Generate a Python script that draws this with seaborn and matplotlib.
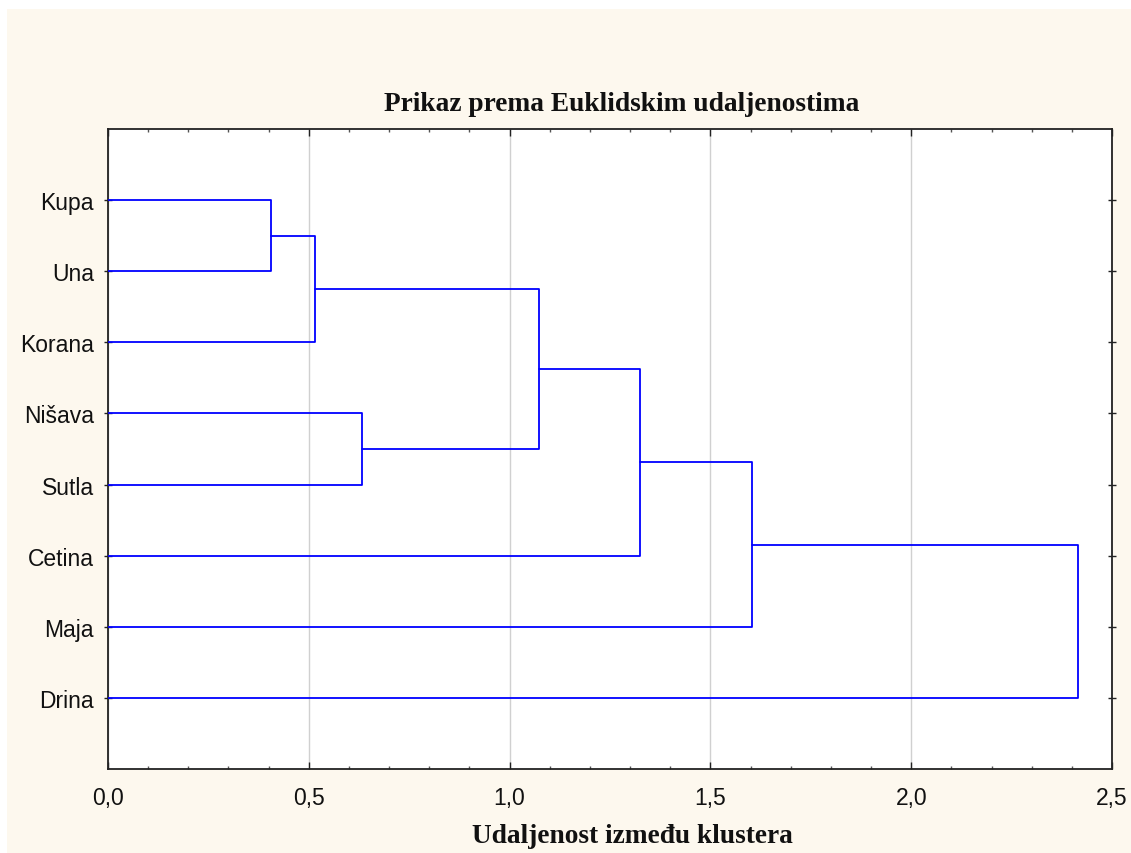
import numpy as np
import pandas as pd
import seaborn as sns
import matplotlib.pyplot as plt
from matplotlib.patches import Rectangle
from matplotlib.ticker import MultipleLocator, FuncFormatter

# Leaves, top to bottom
leaves = ['Kupa', 'Una', 'Korana', 'Nišava', 'Sutla', 'Cetina', 'Maja', 'Drina']
# Merges: (left member, right member, linkage distance); ints >= 8 refer to earlier merges
merge_a = [0, 8, 3, 9, 11, 12, 13]
merge_b = [1, 2, 4, 10, 5, 6, 7]
merge_h = [0.405, 0.516, 0.632, 1.073, 1.324, 1.603, 2.415]

sns.set_theme(style='white')
plt.rcParams['font.family'] = ['Liberation Sans', 'DejaVu Sans']

# Build the dendrogram segments
pos = {i: i + 1 for i in range(len(leaves))}
hgt = {i: 0.0 for i in range(len(leaves))}
rows = []
for k, (a, b, h) in enumerate(zip(merge_a, merge_b, merge_h)):
    seg = [(hgt[a], pos[a]), (h, pos[a]), (h, pos[b]), (hgt[b], pos[b])]
    for j, (x, y) in enumerate(seg):
        rows.append({'seg': k, 'order': j, 'x': x, 'y': y})
    nid = len(leaves) + k
    pos[nid] = (pos[a] + pos[b]) / 2
    hgt[nid] = h
df = pd.DataFrame(rows)

fig = plt.figure(figsize=(11.31, 8.54), dpi=100, facecolor='white')
fig.patches.append(Rectangle((7 / 1131, 0), 1, 1 - 10 / 854, transform=fig.transFigure,
                             facecolor='#fdf8ee', edgecolor='none', zorder=-10))
ax = fig.add_axes([108 / 1131, 1 - 770 / 854, 1004 / 1131, 640 / 854])
ax.set_facecolor('white')

sns.lineplot(data=df, x='x', y='y', units='seg', estimator=None, sort=False,
             color='#0000ff', linewidth=1.3, ax=ax, zorder=3)

ax.set_xlim(0, 2.5)
ax.set_ylim(len(leaves) + 1, 0)
ax.set_yticks(range(1, len(leaves) + 1))
ax.set_yticklabels(leaves)
ax.xaxis.set_major_locator(MultipleLocator(0.5))
ax.xaxis.set_minor_locator(MultipleLocator(0.1))
ax.xaxis.set_major_formatter(FuncFormatter(lambda v, p: f'{v:.1f}'.replace('.', ',')))
ax.grid(axis='x', which='major', color='#d0d0d0', linewidth=1)
ax.tick_params(axis='x', which='major', direction='in', length=5, width=1, color='#222222',
               top=True, bottom=True, labelsize=16.5, pad=12, labelcolor='#111111')
ax.tick_params(axis='x', which='minor', direction='in', length=2.5, width=1, color='#555555',
               top=True, bottom=True)
ax.tick_params(axis='y', which='major', direction='inout', length=6, width=1, color='#222222',
               left=True, right=True, labelsize=16.5, pad=7, labelcolor='#111111')
for sp in ax.spines.values():
    sp.set_color('#222222')
    sp.set_linewidth(1.3)

ax.set_xlabel('Udaljenost između klustera', family=['Liberation Serif', 'DejaVu Serif'],
              fontweight='bold', fontsize=19.7, labelpad=10, color='#111111', x=0.522)
ax.set_ylabel('')
ax.set_title('Prikaz prema Euklidskim udaljenostima', family=['Liberation Serif', 'DejaVu Serif'],
             fontweight='bold', fontsize=19.7, pad=14, color='#111111', x=0.512)

fig.savefig('out.png', dpi=100, facecolor=fig.get_facecolor())
